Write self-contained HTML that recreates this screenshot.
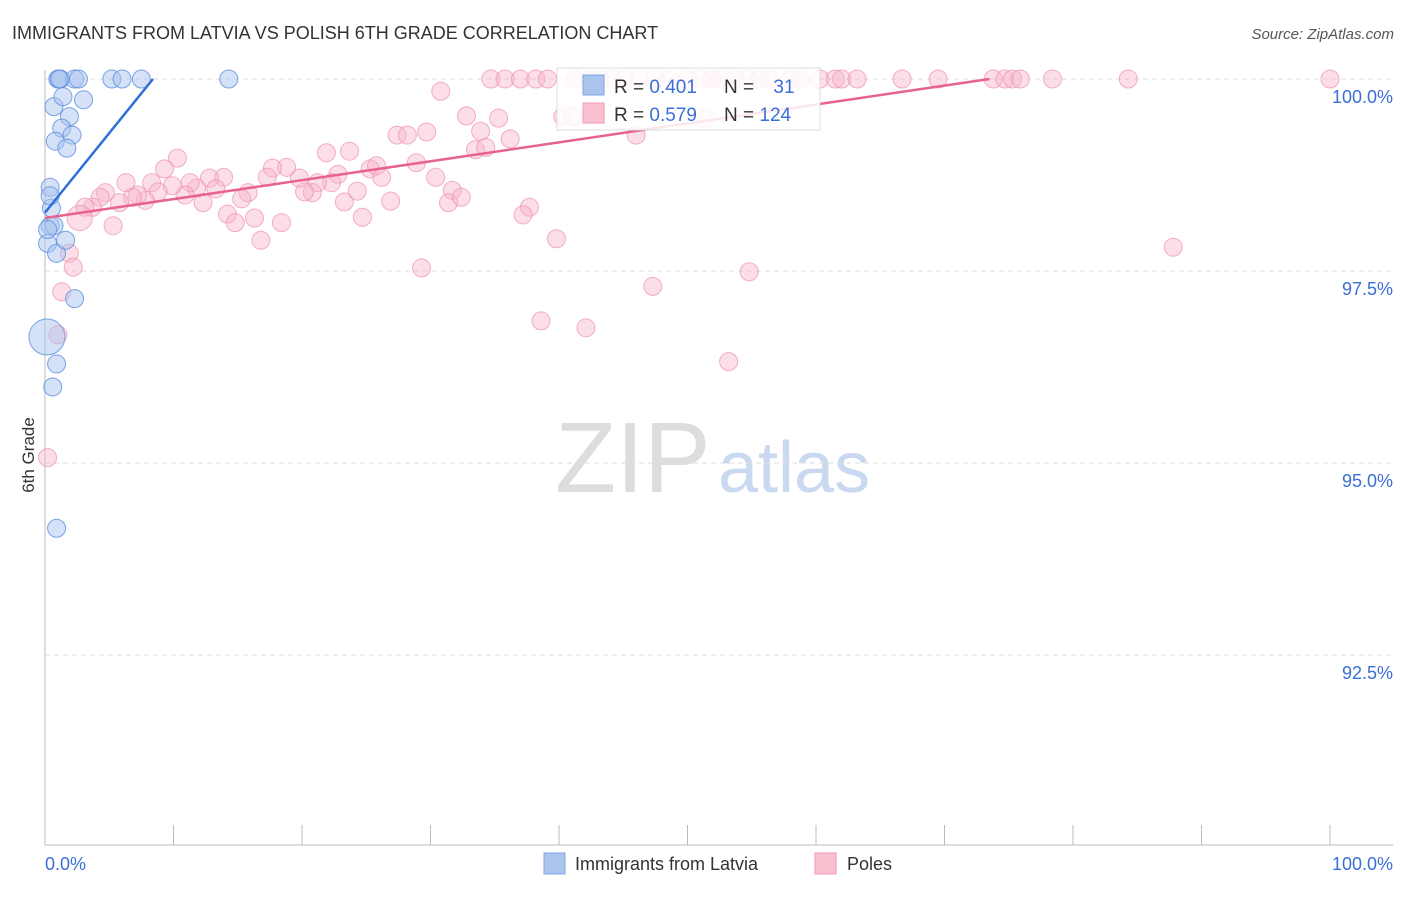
<!DOCTYPE html>
<html><head><meta charset="utf-8"><style>
body{margin:0;background:#fff;font-family:"Liberation Sans",sans-serif}
svg text{font-family:"Liberation Sans",sans-serif}
</style></head><body>
<svg id="c" width="1406" height="892">
<text x="12" y="39" font-size="18" fill="#333">IMMIGRANTS FROM LATVIA VS POLISH 6TH GRADE CORRELATION CHART</text>
<text x="1394" y="39" font-size="15" fill="#555" text-anchor="end" font-style="italic">Source: ZipAtlas.com</text>
<text transform="translate(34,455) rotate(-90)" font-size="17" fill="#333" text-anchor="middle">6th Grade</text>
<text x="555" y="492" font-size="100" fill="#ddd" font-family="Liberation Serif">ZIP</text>
<text x="718" y="492" font-size="72" fill="#c9d9ef">atlas</text>
<g id="grid"></g><g id="pts"></g><g id="lines"></g>
<g>
<rect x="557" y="68" width="263" height="62" fill="#fff" fill-opacity="0.85" stroke="#ddd"/>
<rect x="583" y="75" width="21" height="20" fill="#aac4ee" stroke="#7fa4e0"/>
<rect x="583" y="103" width="21" height="20" fill="#f9c0d0" stroke="#f09ab5"/>
<text x="614" y="93" font-size="19" fill="#333">R = <tspan fill="#3a6fd8">0.401</tspan></text>
<text x="724" y="93" font-size="19" fill="#333">N = <tspan fill="#3a6fd8" dx="14">31</tspan></text>
<text x="614" y="121" font-size="19" fill="#333">R = <tspan fill="#3a6fd8">0.579</tspan></text>
<text x="724" y="121" font-size="19" fill="#333">N = <tspan fill="#3a6fd8">124</tspan></text>
</g>
<rect x="544" y="853" width="21" height="21" fill="#aac4ee" stroke="#7fa4e0"/>
<text x="575" y="870" font-size="18" fill="#333">Immigrants from Latvia</text>
<rect x="815" y="853" width="21" height="21" fill="#f9c0d0" stroke="#f09ab5"/>
<text x="847" y="870" font-size="18" fill="#333">Poles</text>
</svg>
<script>
const yTicks=[100,97.5,95,92.5];
const yTickLabels=["100.0%","97.5%","95.0%","92.5%"];
const xTickLabels=["0.0%","100.0%"];
const latviaX=[1.0,1.2,2.3,2.6,5.2,6.0,7.5,14.3,0.7,1.4,3.0,1.9,1.3,2.1,0.8,1.7,0.4,0.5,0.4,0.7,0.2,0.9,1.6,2.3,0.15,0.9,0.6,0.9,0.4,0.2,1.1];
const latviaY=[100,100,100,100,100,100,100,100,99.64,99.77,99.73,99.51,99.36,99.27,99.19,99.10,98.59,98.32,98.09,98.09,97.86,97.73,97.90,97.14,96.64,96.29,95.99,94.15,98.48,98.04,100];
const latviaSize=[1,1,1,1,1,1,1,1,1,1,1,1,1,1,1,1,1,1,1,1,1,1,1,1,2,1,1,1,1,1,1];
const polesX=[34.7,35.8,37.0,38.2,39.1,41.2,42.4,43.2,44.1,45.1,46.3,47.5,48.6,50.0,51.0,51.9,52.5,53.7,54.7,55.6,56.4,58.0,58.8,60.3,61.5,62.0,63.2,66.7,69.5,73.8,74.7,75.3,75.9,78.4,84.3,100,
30.8,32.8,35.3,33.9,33.5,34.3,36.2,27.4,28.2,29.7,21.9,23.7,28.9,30.4,31.7,31.4,32.4,26.9,24.7,23.3,24.3,25.3,25.8,26.2,22.8,22.3,21.2,20.8,20.2,19.8,18.8,17.7,17.3,15.8,15.3,13.9,12.8,13.3,11.8,11.3,10.9,9.9,10.3,9.3,8.3,8.8,7.8,7.2,6.8,6.3,5.8,4.7,4.3,3.7,3.1,2.7,5.3,12.3,14.2,14.8,16.3,18.4,16.8,29.3,37.7,37.2,39.8,47.3,54.8,38.6,42.1,53.2,46.0,40.3,41.1,51.4,87.8,1.9,2.2,1.3,1.0,0.2];
const polesY=[100,100,100,100,100,100,100,100,100,100,100,100,100,100,100,100,100,100,100,100,100,100,100,100,100,100,100,100,100,100,100,100,100,100,100,100,
99.84,99.52,99.49,99.32,99.08,99.11,99.22,99.27,99.27,99.31,99.04,99.06,98.91,98.72,98.55,98.39,98.46,98.41,98.20,98.40,98.54,98.83,98.87,98.72,98.76,98.65,98.65,98.52,98.53,98.71,98.85,98.84,98.72,98.52,98.44,98.72,98.71,98.57,98.58,98.65,98.49,98.61,98.97,98.83,98.65,98.53,98.42,98.49,98.46,98.65,98.39,98.52,98.46,98.33,98.33,98.19,98.09,98.39,98.24,98.13,98.19,98.13,97.90,97.54,98.33,98.23,97.92,97.30,97.49,96.85,96.76,96.32,99.27,99.51,99.51,99.48,97.81,97.73,97.55,97.23,96.67,95.07];
const polesSize=polesX.map((_,i)=>i===91?1.4:(i>=119?(i===121?2.2:2):1));
const latviaTrend=[[0,98.26],[8.4,100]];
const polesTrend=[[0,98.19],[73.5,100]];
const NS="http://www.w3.org/2000/svg";
const X=v=>45+v*12.85, Y=v=>79+(100-v)*76.8;
function mk(t,a,p){const e=document.createElementNS(NS,t);for(const k in a)e.setAttribute(k,a[k]);p.appendChild(e);return e;}
const g=document.getElementById('grid');
yTicks.forEach((t,i)=>{
 const l=mk('line',{x1:45,x2:1393,y1:Y(t),y2:Y(t),stroke:'#ddd','stroke-dasharray':'5,4'},g);
 
 
 const tx=mk('text',{x:1393,y:Y(t)+24,'font-size':18,fill:'#3a6fd8','text-anchor':'end'},g);
 tx.textContent=yTickLabels[i];
 
 
});
const ax=mk('line',{x1:45,x2:45,y1:70,y2:845,stroke:'#bbb'},g);


const bx=mk('line',{x1:45,x2:1393,y1:845,y2:845,stroke:'#bbb'},g);


for(let i=0;i<=10;i++){const t=mk('line',{x1:X(i*10),x2:X(i*10),y1:825,y2:845,stroke:'#bbb'},g);
 
 }
[[0,'start'],[100,'end']].forEach((d,i)=>{const t=mk('text',{x:i?1393:45,y:870,'font-size':18,fill:'#3a6fd8','text-anchor':d[1]},g);t.textContent=xTickLabels[i];
 
 });
const pg=document.getElementById('pts');
polesX.forEach((x,i)=>{const c=mk('circle',{cx:X(x),cy:Y(polesY[i]),r:9*polesSize[i],fill:'#f7b6c9','fill-opacity':0.45,stroke:'#ef8fae','stroke-opacity':0.7},pg);
 
 });
latviaX.forEach((x,i)=>{const c=mk('circle',{cx:X(x),cy:Y(latviaY[i]),r:9*latviaSize[i],fill:'#a9c4f0','fill-opacity':0.5,stroke:'#5b8ee0','stroke-opacity':0.8},pg);
 
 });
const lg=document.getElementById('lines');
const l1=mk('line',{x1:X(latviaTrend[0][0]),y1:Y(latviaTrend[0][1]),x2:X(latviaTrend[1][0]),y2:Y(latviaTrend[1][1]),stroke:'#2f6fd8','stroke-width':2.5},lg);


const l2=mk('line',{x1:X(polesTrend[0][0]),y1:Y(polesTrend[0][1]),x2:X(polesTrend[1][0]),y2:Y(polesTrend[1][1]),stroke:'#e8628e','stroke-width':2.5},lg);


</script>
</body></html>
